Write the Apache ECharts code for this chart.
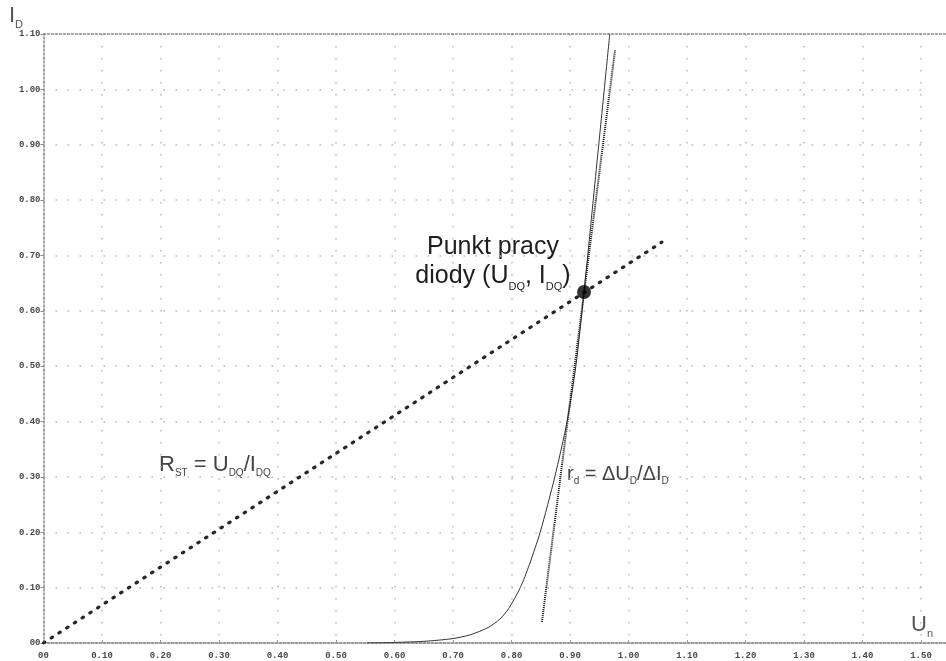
<!DOCTYPE html>
<html>
<head>
<meta charset="utf-8">
<script src="https://cdn.jsdelivr.net/npm/echarts@6/dist/echarts.min.js"></script>
<style>html,body{margin:0;padding:0;background:#fff}#c{width:946px;height:661px}</style>
</head>
<body>
<div id="c"></div>
<script>
// Tick labels
const xTickLabels = ['00','0.10','0.20','0.30','0.40','0.50','0.60','0.70','0.80','0.90','1.00','1.10','1.20','1.30','1.40','1.50'];
const yTickLabels = ['00','0.10','0.20','0.30','0.40','0.50','0.60','0.70','0.80','0.90','1.00','1.10'];
// Diode characteristic I_D(U)
const diodeU = [0.553, 0.60, 0.65, 0.70, 0.73, 0.76, 0.78, 0.795, 0.815, 0.83, 0.849, 0.874, 0.895, 0.91, 0.924, 0.946, 0.968];
const diodeI = [0.000, 0.001, 0.003, 0.008, 0.015, 0.028, 0.043, 0.062, 0.100, 0.140, 0.200, 0.300, 0.400, 0.500, 0.634, 0.867, 1.10];
// Tangent (dynamic resistance)
const tangentU = [0.852, 0.977];
const tangentI = [0.038, 1.071];
// Static resistance line
const staticU = [0.0, 1.057];
const staticI = [0.0, 0.724];
// Operating point
const opU = [0.924];
const opI = [0.634];

const zip = (a, b) => a.map((v, i) => [v, b[i]]);
const tickFmt = (arr) => (v) => { const k = Math.round(v / 0.1); return (Math.abs(v - k * 0.1) < 1e-6 && arr[k] !== undefined) ? arr[k] : ''; };

const chart = echarts.init(document.getElementById('c'), null, {renderer: 'canvas'});
const gridLine = {show: true, lineStyle: {color: '#b8b8b8', width: 1.5, type: [1.5, 10.5]}};
const labelStyle = {color: '#4a4a4a', fontFamily: 'Liberation Mono', fontWeight: 'bold', fontSize: 9};
const F = 'Liberation Sans';
function rich(main, sub, color, pad) {
  return {
    m: {fontSize: main, fill: color, fontFamily: F},
    s: {fontSize: sub, fill: color, fontFamily: F, verticalAlign: 'bottom', padding: [0, 0, -pad, 0]}
  };
}

chart.setOption({
  animation: false,
  backgroundColor: '#fff',
  grid: [
    {left: 43.5, top: 34, width: 877.5, bottom: 18},
    {left: 43.5, top: 34, right: 0, bottom: 18}
  ],
  xAxis: [
    {type: 'value', gridIndex: 0, min: 0, max: 1.5, interval: 0.1,
     axisLine: {show: false}, axisTick: {show: true, length: 3, inside: true, lineStyle: {color: '#999'}},
     axisLabel: Object.assign({margin: 8, formatter: tickFmt(xTickLabels)}, labelStyle),
     splitLine: gridLine},
    {type: 'value', gridIndex: 1, position: 'bottom', min: 0, max: 1, show: true,
     axisLine: {show: true, lineStyle: {color: '#9a9a9a', width: 2, type: [2, 2]}},
     axisTick: {show: false}, axisLabel: {show: false}, splitLine: {show: false}},
    {type: 'value', gridIndex: 1, position: 'top', min: 0, max: 1, show: true,
     axisLine: {show: true, lineStyle: {color: '#8a8a8a', width: 1.5, type: [2, 2]}},
     axisTick: {show: false}, axisLabel: {show: false}, splitLine: {show: false}}
  ],
  yAxis: [
    {type: 'value', gridIndex: 0, min: 0, max: 1.1, interval: 0.1,
     axisLine: {show: true, lineStyle: {color: '#8a8a8a', width: 1.5, type: [2, 2]}},
     axisTick: {show: true, length: 3, lineStyle: {color: '#888'}},
     axisLabel: Object.assign({margin: 3, formatter: tickFmt(yTickLabels)}, labelStyle),
     splitLine: gridLine},
    {type: 'value', gridIndex: 1, min: 0, max: 1, show: false}
  ],
  series: [
    {type: 'line', xAxisIndex: 0, yAxisIndex: 0, data: zip(diodeU, diodeI), smooth: 0.25,
     showSymbol: false, lineStyle: {color: '#333', width: 1}},
    {type: 'line', xAxisIndex: 0, yAxisIndex: 0, data: zip(tangentU, tangentI),
     showSymbol: false, lineStyle: {color: '#111', width: 2, type: [1, 1]}},
    {type: 'line', xAxisIndex: 0, yAxisIndex: 0, data: zip(staticU, staticI),
     showSymbol: false, lineStyle: {color: '#262626', width: 3.2, type: [1.5, 7.7], cap: 'round'}},
    {type: 'scatter', xAxisIndex: 0, yAxisIndex: 0, data: zip(opU, opI), symbolSize: 14,
     itemStyle: {color: '#000'}, z: 5}
  ],
  graphic: [
    {type: 'text', left: 9, top: 5, style: {text: '{m|I}{s|D}', rich: rich(22, 11, '#555', 3)}},
    {type: 'text', left: 911, top: 614, style: {text: '{m|U}{s|n}', rich: rich(22, 11, '#555', 3)}},
    {type: 'text', x: 493, y: 235, style: {text: '{m|Punkt pracy}', align: 'center', rich: rich(25, 11, '#1e1e1e', 3)}},
    {type: 'text', x: 493, y: 264, style: {text: '{m|diody (U}{s|DQ}{m|, I}{s|DQ}{m|)}', align: 'center', rich: rich(25, 11, '#1e1e1e', 3)}},
    {type: 'text', left: 159, top: 454, style: {text: '{m|R}{s|ST}{m| = U}{s|DQ}{m|/I}{s|DQ}', rich: rich(22, 10, '#444', 2)}},
    {type: 'text', left: 567, top: 464, style: {text: '{m|r}{s|d}{m| = ΔU}{s|D}{m|/ΔI}{s|D}', rich: rich(20, 10, '#444', 2)}}
  ]
});
</script>
</body>
</html>
